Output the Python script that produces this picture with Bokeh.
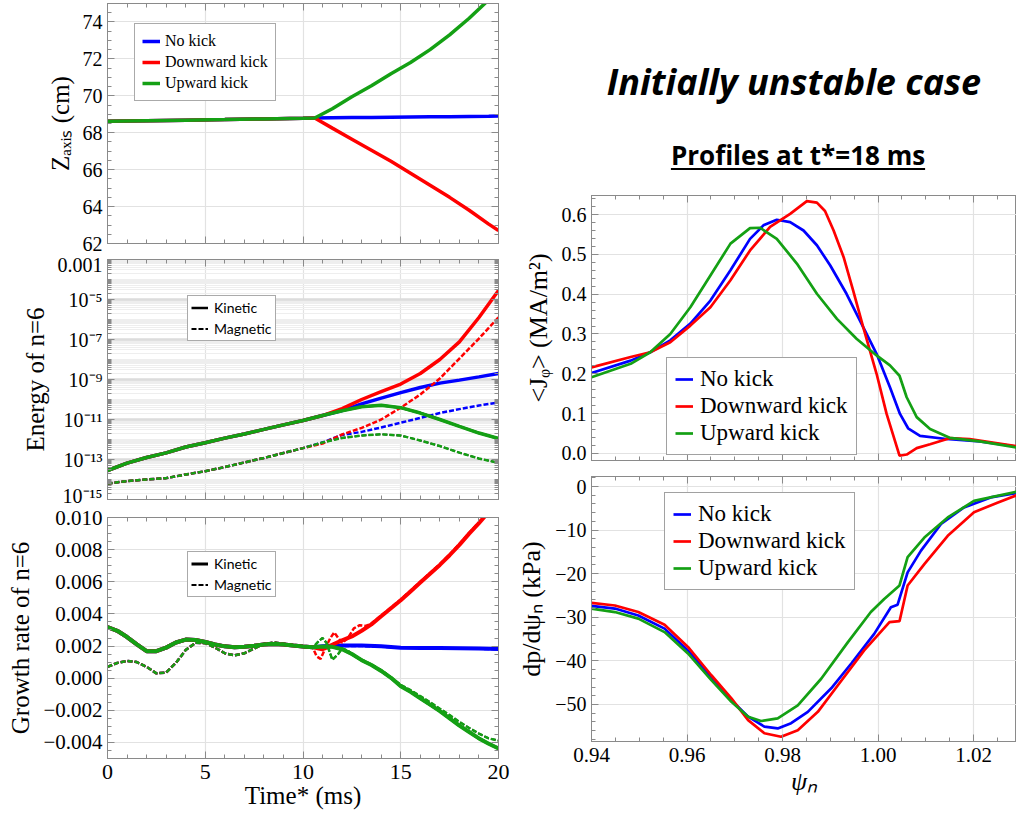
from bokeh.plotting import figure
from bokeh.layouts import row, column
from bokeh.models import (Range1d, LinearAxis, FixedTicker, Legend, LegendItem,
                          Div, CustomJSTickFormatter)
from bokeh.embed import file_html
from bokeh.resources import INLINE

# ---------------- data ----------------
# Panel 1: Z_axis (cm) vs time* (ms)
t_z = [0, 2, 4, 6, 8, 10, 10.6, 11.5, 12.5, 13.5, 14.5, 15.5, 16.5, 17.5, 18.5, 19.5, 20]
z_common = [68.62, 68.65, 68.68, 68.71, 68.75, 68.78, 68.80]
z_no_kick = z_common + [68.81, 68.82, 68.83, 68.84, 68.85, 68.86, 68.87, 68.88, 68.89, 68.90]
z_down = z_common + [68.25, 67.65, 67.05, 66.45, 65.80, 65.15, 64.50, 63.80, 63.05, 62.70]
z_up = z_common + [69.30, 69.95, 70.55, 71.20, 71.80, 72.50, 73.30, 74.20, 75.20, 75.70]

# Panel 2: energy of n=6 (kinetic / magnetic)
t_e = [0, 1, 2, 3, 4, 5, 6, 7, 8, 9, 10, 11, 12, 13, 14, 15, 16, 17, 18, 19, 20]
e_kin_common = [2.8e-14, 6.6e-14, 1.26e-13, 2.14e-13, 4.2e-13, 6.9e-13, 1.17e-12, 1.9e-12,
                3.2e-12, 5.4e-12, 8.9e-12]
e_mag_common = [6.3e-15, 8.3e-15, 1.0e-14, 1.17e-14, 1.78e-14, 2.6e-14, 4.2e-14, 7.1e-14,
                1.2e-13, 2.1e-13, 3.7e-13]
e_kin_no_kick = e_kin_common + [1.58e-11, 2.8e-11, 6.0e-11, 1.17e-10, 2.2e-10, 4.0e-10, 6.6e-10,
                                9.3e-10, 1.35e-9, 2.0e-9]
e_kin_down = e_kin_common + [1.58e-11, 3.5e-11, 1.0e-10, 2.5e-10, 5.9e-10, 2.0e-9, 1.0e-8,
                             7.6e-8, 1.26e-6, 2.8e-5]
e_kin_up = e_kin_common + [1.58e-11, 2.75e-11, 4.3e-11, 5.1e-11, 3.9e-11, 2.1e-11, 1.0e-11,
                           4.5e-12, 2.1e-12, 1.12e-12]
e_mag_no_kick = e_mag_common + [7.1e-13, 1.7e-12, 2.4e-12, 4.0e-12, 6.9e-12, 1.2e-11, 2.1e-11,
                                3.3e-11, 5.0e-11, 7.1e-11]
e_mag_down = e_mag_common + [6.3e-13, 1.78e-12, 3.8e-12, 1.0e-11, 3.9e-11, 1.78e-10, 1.12e-9,
                             1.12e-8, 1.12e-7, 1.29e-6]
e_mag_up = e_mag_common + [7.1e-13, 1.2e-12, 1.58e-12, 1.82e-12, 1.58e-12, 8.9e-13, 4.7e-13,
                           2.2e-13, 1.12e-13, 6.8e-14]

# Panel 3: growth rate of n=6
t_g_common = [0, 0.5, 1, 1.5, 2, 2.5, 3, 3.5, 4, 4.5, 5, 5.5, 6, 6.5, 7, 7.5, 8, 8.5, 9, 9.5,
              10, 10.5]
g_kin_common = [0.00318, 0.00295, 0.00256, 0.00210, 0.00168, 0.00168, 0.00190, 0.00222,
                0.00240, 0.00238, 0.00225, 0.00210, 0.00198, 0.00193, 0.00195, 0.00202,
                0.00210, 0.00213, 0.00210, 0.00203, 0.00197, 0.00193]
g_mag_common = [0.00070, 0.00095, 0.00107, 0.00100, 0.00070, 0.00030, 0.00035, 0.00095,
                0.00175, 0.00220, 0.00218, 0.00190, 0.00155, 0.00142, 0.00155, 0.00185,
                0.00212, 0.00222, 0.00215, 0.00205, 0.00195, 0.00190]

t_g_kin_no_kick = t_g_common + [11, 11.5, 12, 13, 14, 15, 16, 17, 18, 19, 20]
g_kin_no_kick = g_kin_common + [0.00198, 0.00202, 0.00203, 0.00203, 0.00198, 0.00190, 0.00188,
                                0.00187, 0.00186, 0.00184, 0.00182]
t_g_mag_no_kick = t_g_common + [11, 11.5, 12, 13, 14, 15, 16, 17, 18, 19, 20]
g_mag_no_kick = g_mag_common + [0.00195, 0.00200, 0.00200, 0.00200, 0.00196, 0.00190, 0.00188,
                                0.00186, 0.00185, 0.00183, 0.00180]

t_g_kin_down = t_g_common + [10.8, 11, 11.3, 11.6, 12, 12.5, 13, 13.5, 14, 14.5, 15, 15.5, 16,
                             16.5, 17, 17.5, 18, 18.5, 19, 19.5, 20]
g_kin_down = g_kin_common + [0.00185, 0.00180, 0.00195, 0.00214, 0.00235, 0.00260, 0.00295,
                             0.00335, 0.00385, 0.00435, 0.00485, 0.00540, 0.00595, 0.00650,
                             0.00705, 0.00765, 0.00830, 0.00900, 0.00965, 0.01035, 0.01110]
t_g_mag_down = t_g_common + [10.7, 10.9, 11.1, 11.4, 11.6, 11.8, 12.0, 12.3, 12.6, 12.9, 13.2,
                             13.5, 14, 14.5, 15, 15.5, 16, 16.5, 17, 17.5, 18, 18.5, 19, 19.5, 20]
g_mag_down = g_mag_common + [0.00135, 0.00120, 0.00175, 0.00250, 0.00285, 0.00250, 0.00220,
                             0.00250, 0.00310, 0.00330, 0.00325, 0.00340, 0.00390, 0.00440,
                             0.00490, 0.00545, 0.00600, 0.00655, 0.00710, 0.00770, 0.00835,
                             0.00905, 0.00970, 0.01040, 0.01115]

t_g_kin_up = t_g_common + [11, 11.5, 12, 12.5, 13, 13.5, 14, 14.5, 15, 15.5, 16, 16.5, 17, 17.5,
                           18, 18.5, 19, 19.5, 20]
g_kin_up = g_kin_common + [0.00197, 0.00195, 0.00180, 0.00150, 0.00112, 0.00082, 0.00045,
                           0.00002, -0.00050, -0.00085, -0.00125, -0.00165, -0.00205, -0.00250,
                           -0.00295, -0.00335, -0.00375, -0.00408, -0.00437]
t_g_mag_up = t_g_common + [10.8, 11, 11.2, 11.5, 11.8, 12, 12.3, 12.6, 13, 13.5, 14, 14.5, 15,
                           15.5, 16, 16.5, 17, 17.5, 18, 18.5, 19, 19.5, 20]
g_mag_up = g_mag_common + [0.00230, 0.00250, 0.00220, 0.00115, 0.00150, 0.00185, 0.00170,
                           0.00140, 0.00115, 0.00085, 0.00050, 0.00005, -0.00042, -0.00075,
                           -0.00112, -0.00150, -0.00190, -0.00230, -0.00272, -0.00310,
                           -0.00345, -0.00375, -0.00388]

# Panel 4: <J_phi> (MA/m^2) vs psi_n at t*=18 ms
psi_j_no_kick = [0.94, 0.9482, 0.9523, 0.9565, 0.9607, 0.9649, 0.9691, 0.9732, 0.976, 0.9788,
                 0.9816, 0.9844, 0.9872, 0.99, 0.9934, 0.9969, 0.9997, 1.0025, 1.0046, 1.0063,
                 1.0088, 1.0143, 1.0213, 1.029]
j_no_kick = [0.202, 0.233, 0.254, 0.284, 0.326, 0.384, 0.460, 0.539, 0.573, 0.587, 0.581,
             0.560, 0.523, 0.472, 0.401, 0.317, 0.250, 0.166, 0.099, 0.063, 0.044, 0.036,
             0.030, 0.017]
psi_j_down = [0.94, 0.9482, 0.9523, 0.9565, 0.9607, 0.9649, 0.9691, 0.9732, 0.9774, 0.9816,
              0.9851, 0.9872, 0.9889, 0.9907, 0.9928, 0.9948, 0.9969, 0.9997, 1.0018, 1.0045,
              1.006, 1.0081, 1.0109, 1.015, 1.0192, 1.029]
j_down = [0.216, 0.242, 0.254, 0.279, 0.321, 0.367, 0.435, 0.510, 0.569, 0.602, 0.634, 0.630,
          0.609, 0.560, 0.493, 0.409, 0.317, 0.200, 0.099, -0.006, -0.003, 0.013, 0.023,
          0.038, 0.036, 0.018]
psi_j_up = [0.94, 0.9482, 0.9523, 0.9565, 0.9607, 0.9649, 0.9691, 0.9732, 0.9753, 0.9788,
            0.983, 0.9872, 0.9914, 0.9955, 0.9997, 1.0025, 1.0045, 1.006, 1.0081, 1.0109,
            1.015, 1.0213, 1.029]
j_up = [0.191, 0.225, 0.254, 0.300, 0.367, 0.447, 0.527, 0.566, 0.567, 0.539, 0.477, 0.401,
        0.338, 0.288, 0.246, 0.221, 0.195, 0.141, 0.091, 0.061, 0.039, 0.030, 0.015]

# Panel 5: dp/dpsi_n (kPa) vs psi_n at t*=18 ms
psi_p_no_kick = [0.94, 0.9449, 0.9498, 0.9553, 0.9602, 0.9651, 0.9693, 0.9728, 0.9762, 0.979,
                 0.9818, 0.9853, 0.9902, 0.9944, 0.9992, 1.0027, 1.0041, 1.0062, 1.009, 1.0132,
                 1.018, 1.0236, 1.029]
p_no_kick = [-27.4, -28.0, -29.6, -32.6, -37.6, -43.7, -49.0, -52.8, -55.1, -55.5, -54.3,
             -51.7, -46.3, -40.6, -33.8, -27.7, -27.1, -19.7, -14.7, -8.6, -4.8, -2.5, -1.5]
psi_p_down = [0.94, 0.9449, 0.9498, 0.9553, 0.9602, 0.9651, 0.9693, 0.9728, 0.9762, 0.9797,
              0.9832, 0.9874, 0.9916, 0.9971, 1.0024, 1.0045, 1.0062, 1.0097, 1.0146, 1.0201,
              1.025, 1.029]
p_down = [-26.7, -27.3, -28.8, -31.7, -36.8, -43.3, -48.6, -53.6, -56.6, -57.4, -55.9, -51.7,
          -45.6, -37.6, -31.1, -30.9, -22.7, -17.8, -11.3, -5.9, -3.7, -2.0]
psi_p_up = [0.94, 0.9449, 0.9498, 0.9553, 0.9602, 0.9651, 0.9693, 0.9728, 0.9755, 0.979,
            0.9832, 0.9881, 0.9937, 0.9985, 1.0013, 1.0045, 1.0062, 1.0097, 1.0146, 1.0201,
            1.029]
p_up = [-28.0, -28.8, -30.3, -33.4, -38.3, -44.4, -49.4, -52.8, -53.8, -53.2, -50.2, -44.1,
        -35.7, -28.8, -25.8, -22.7, -16.2, -11.7, -7.1, -3.3, -1.2]

series_names = ["No kick", "Downward kick", "Upward kick"]

# tick values
t_major = [0, 5, 10, 15, 20]
z_major = [62, 64, 66, 68, 70, 72, 74]
e_major = [1e-15, 1e-13, 1e-11, 1e-9, 1e-7, 1e-5, 1e-3]
g_major = [-0.004, -0.002, 0.0, 0.002, 0.004, 0.006, 0.008, 0.010]
psi_major = [0.94, 0.96, 0.98, 1.00, 1.02]
j_major = [0.0, 0.1, 0.2, 0.3, 0.4, 0.5, 0.6]
p_major = [-50, -40, -30, -20, -10, 0]

# ---------------- style ----------------
BLUE, RED, GREEN = "#0000FF", "#FF0000", "#14A014"
SERIF = "Liberation Serif"
SANS = "Lato"
FRAME = "#8a8a8a"
GRID = "#e2e2e2"
DASH = "5 2"


def labels(ticks, digits):
    return {v: ("%.*f" % (digits, v)).replace("-", "\u2212") for v in ticks}


log_fmt = CustomJSTickFormatter(code="""
const e = Math.round(Math.log10(tick));
if (e === -3) { return "0.001"; }
const sup = {"-": "\\u207B", "0": "\\u2070", "1": "\\u00B9", "2": "\\u00B2", "3": "\\u00B3",
             "4": "\\u2074", "5": "\\u2075", "6": "\\u2076", "7": "\\u2077", "8": "\\u2078",
             "9": "\\u2079"};
return "10" + String(e).split("").map(c => sup[c]).join("");
""")


def style_axis(ax, ticker, show_labels=True, size="20px", overrides=None):
    ax.ticker = ticker
    ax.axis_line_color = FRAME
    ax.major_tick_line_color = FRAME
    ax.minor_tick_line_color = FRAME
    ax.major_tick_in = 7
    ax.major_tick_out = 0
    ax.minor_tick_in = 4
    ax.minor_tick_out = 0
    ax.major_label_text_font = SERIF
    ax.major_label_text_color = "black"
    ax.axis_label_text_font = SERIF
    ax.axis_label_text_font_style = "normal"
    ax.axis_label_text_font_size = "25px"
    ax.axis_label_text_color = "black"
    ax.axis_label_standoff = 6
    if show_labels:
        ax.major_label_text_font_size = size
        ax.major_label_standoff = 5
        if overrides is not None:
            ax.major_label_overrides = overrides
    else:
        ax.major_label_text_font_size = "0px"
        ax.major_label_standoff = 0


def make_fig(w, h, xr, yr, borders, y_type="linear"):
    l, r, t, b = borders
    p = figure(width=w, height=h, x_range=Range1d(*xr), y_range=Range1d(*yr),
               y_axis_type=y_type, output_backend="svg", toolbar_location=None,
               min_border_left=l, min_border_right=r, min_border_top=t, min_border_bottom=b)
    p.outline_line_color = FRAME
    p.background_fill_color = "white"
    p.border_fill_color = "white"
    return p


def frame_axes(p, xt, yt, right=True):
    top = LinearAxis()
    style_axis(top, xt, show_labels=False)
    p.add_layout(top, "above")
    if right:
        ra = LinearAxis()
        style_axis(ra, yt, show_labels=False)
        p.add_layout(ra, "right")


def grids(p, xt, yt):
    p.xgrid.ticker = xt
    p.ygrid.ticker = yt
    p.grid.grid_line_color = GRID
    p.grid.grid_line_width = 1.2


def legend(p, items, loc, font, size, gw, lh, sp, pad, standoff, border="#555555"):
    lg = Legend(items=items, location=loc)
    lg.label_text_font = font
    lg.label_text_font_size = size
    lg.label_text_color = "black"
    lg.glyph_width = gw
    lg.glyph_height = lh
    lg.label_height = lh
    lg.spacing = sp
    lg.padding = pad
    lg.margin = 0
    lg.label_standoff = standoff
    lg.border_line_color = border
    lg.border_line_width = 1.2
    lg.background_fill_color = "white"
    lg.background_fill_alpha = 1.0
    p.add_layout(lg)
    return lg


# left x ticker (time)
t_ticks = FixedTicker(ticks=t_major, minor_ticks=list(range(0, 21)))

# ---------- Panel 1 ----------
f1 = make_fig(510, 253, (0, 20), (62, 75), (107, 12, 3, 10))
y1t = FixedTicker(ticks=z_major, minor_ticks=[62 + 0.5 * i for i in range(27)])
style_axis(f1.xaxis[0], t_ticks, show_labels=False)
style_axis(f1.yaxis[0], y1t)
f1.yaxis[0].axis_label = "Z\u2090\u2093\u1d62\u209b (cm)"
frame_axes(f1, t_ticks, y1t)
grids(f1, t_ticks, y1t)
r1 = []
for xs, ys, c in [(t_z, z_no_kick, BLUE), (t_z, z_down, RED), (t_z, z_up, GREEN)]:
    r1.append(f1.line(xs, ys, line_color=c, line_width=3.5))
legend(f1, [LegendItem(label=n, renderers=[r]) for n, r in zip(series_names, r1)],
       (27, 142), SERIF, "16px", 18, 20, 1, 7, 5)

# ---------- Panel 2 ----------
f2 = make_fig(510, 253, (0, 20), (1e-15, 1e-3), (107, 12, 6, 7), y_type="log")
dec_minor = [m * 10.0 ** e for e in range(-15, -3) for m in range(1, 10)]
y2t = FixedTicker(ticks=e_major, minor_ticks=dec_minor)
style_axis(f2.xaxis[0], t_ticks, show_labels=False)
style_axis(f2.yaxis[0], y2t)
f2.yaxis[0].formatter = log_fmt
f2.yaxis[0].axis_label = "Energy of n=6"
frame_axes(f2, t_ticks, y2t)
f2.right[0].formatter = log_fmt
grids(f2, t_ticks, y2t)
f2.ygrid.grid_line_color = "#dcdcdc"
f2.ygrid.grid_line_width = 2.5
f2.ygrid.minor_grid_line_color = "#eeeeee"
f2.ygrid.minor_grid_line_width = 1
# black style keys (drawn first, hidden beneath the green curves)
k2 = f2.line(t_e, e_kin_up, line_color="black", line_width=2.5)
m2 = f2.line(t_e, e_mag_up, line_color="black", line_width=1.8, line_dash=DASH)
for kin, mag, c in [(e_kin_no_kick, e_mag_no_kick, BLUE), (e_kin_down, e_mag_down, RED),
                    (e_kin_up, e_mag_up, GREEN)]:
    f2.line(t_e, mag, line_color=c, line_width=2.5, line_dash=DASH)
    f2.line(t_e, kin, line_color=c, line_width=3.5)
legend(f2, [LegendItem(label="Kinetic", renderers=[k2]), LegendItem(label="Magnetic", renderers=[m2])],
       (80, 158), SANS, "14px", 17, 17, 4, 3, 6)

# ---------- Panel 3 ----------
f3 = make_fig(510, 310, (0, 20), (-0.005, 0.010), (107, 12, 11, 58))
y3t = FixedTicker(ticks=g_major, minor_ticks=[-0.005 + 0.0005 * i for i in range(31)])
style_axis(f3.xaxis[0], t_ticks, size="22px")
f3.xaxis[0].axis_label = "Time* (ms)"
f3.xaxis[0].axis_label_standoff = 0
f3.xaxis[0].major_label_standoff = 6
style_axis(f3.yaxis[0], y3t, size="21px", overrides=labels(g_major, 3))
f3.yaxis[0].axis_label = "Growth rate of n=6"
frame_axes(f3, t_ticks, y3t)
grids(f3, t_ticks, y3t)
k3 = f3.line(t_g_kin_up, g_kin_up, line_color="black", line_width=3)
m3 = f3.line(t_g_mag_up, g_mag_up, line_color="black", line_width=1.8, line_dash=DASH)
for tk, gk, tm, gm, c in [(t_g_kin_no_kick, g_kin_no_kick, t_g_mag_no_kick, g_mag_no_kick, BLUE),
                          (t_g_kin_down, g_kin_down, t_g_mag_down, g_mag_down, RED),
                          (t_g_kin_up, g_kin_up, t_g_mag_up, g_mag_up, GREEN)]:
    f3.line(tm, gm, line_color=c, line_width=2.5, line_dash=DASH)
    f3.line(tk, gk, line_color=c, line_width=4)
legend(f3, [LegendItem(label="Kinetic", renderers=[k3]), LegendItem(label="Magnetic", renderers=[m3])],
       (80, 161), SANS, "14px", 17, 17, 4, 3, 6)

# ---------- Title block ----------
title_html = """
<div style="position:relative;width:506px;height:186px;">
  <div style="position:absolute;left:284px;top:64px;transform:translateX(-50%);white-space:nowrap;
              font-family:'Open Sans';font-weight:bold;font-style:italic;font-size:36px;line-height:36px;
              color:black;">Initially unstable case</div>
  <div style="position:absolute;left:288px;top:142px;transform:translateX(-50%);white-space:nowrap;
              font-family:'Open Sans';font-weight:bold;font-size:26px;line-height:26px;color:black;
              text-decoration:underline;text-underline-offset:3px;">Profiles at t*=18 ms</div>
</div>
"""
title_div = Div(text=title_html, width=506, height=186, margin=0)

# ---------- Panel 4 ----------
psi_ticks = FixedTicker(ticks=psi_major, minor_ticks=[0.94 + 0.005 * i for i in range(19)])
f4 = make_fig(506, 284, (0.94, 1.029), (-0.018, 0.648), (81, 0, 9, 10))
y4t = FixedTicker(ticks=j_major, minor_ticks=[0.02 * i for i in range(33)])
style_axis(f4.xaxis[0], psi_ticks, show_labels=False)
style_axis(f4.yaxis[0], y4t, overrides=labels(j_major, 1))
f4.yaxis[0].axis_label = "<J\u1d69> (MA/m\u00b2)"
f4.yaxis[0].axis_label_text_font_size = "26px"
frame_axes(f4, psi_ticks, y4t, right=False)
grids(f4, psi_ticks, y4t)
r4 = []
for xs, ys, c in [(psi_j_no_kick, j_no_kick, BLUE), (psi_j_down, j_down, RED), (psi_j_up, j_up, GREEN)]:
    r4.append(f4.line(xs, ys, line_color=c, line_width=2.7))
legend(f4, [LegendItem(label=n, renderers=[r]) for n, r in zip(series_names, r4)],
       (75, 5), SERIF, "23px", 18, 26, 1, 8, 7, border="#444444")

# ---------- Panel 5 ----------
f5 = make_fig(506, 346, (0.94, 1.029), (-58.5, 2.3), (81, 0, 6, 75))
y5t = FixedTicker(ticks=p_major, minor_ticks=[-58 + 2 * i for i in range(31)])
style_axis(f5.xaxis[0], psi_ticks, size="21px", overrides=labels(psi_major, 2))
f5.xaxis[0].axis_label = "\u03c8\u2099"
f5.xaxis[0].axis_label_text_font_style = "italic"
f5.xaxis[0].axis_label_text_font_size = "26px"
f5.xaxis[0].axis_label_standoff = 2
f5.xaxis[0].major_label_standoff = 6
style_axis(f5.yaxis[0], y5t, overrides=labels(p_major, 0))
f5.yaxis[0].axis_label = "dp/d\u03c8\u2099 (kPa)"
f5.yaxis[0].axis_label_text_font_size = "26px"
frame_axes(f5, psi_ticks, y5t, right=False)
grids(f5, psi_ticks, y5t)
r5 = []
for xs, ys, c in [(psi_p_no_kick, p_no_kick, BLUE), (psi_p_down, p_down, RED), (psi_p_up, p_up, GREEN)]:
    r5.append(f5.line(xs, ys, line_color=c, line_width=2.7))
legend(f5, [LegendItem(label=n, renderers=[r]) for n, r in zip(series_names, r5)],
       (73, 151), SERIF, "23px", 18, 26, 1, 8, 7, border="#444444")

layout = row(column(f1, f2, f3, spacing=0), column(title_div, f4, f5, spacing=0), spacing=0)
open("out.html", "w").write(file_html(layout, INLINE, title="Initially unstable case"))
